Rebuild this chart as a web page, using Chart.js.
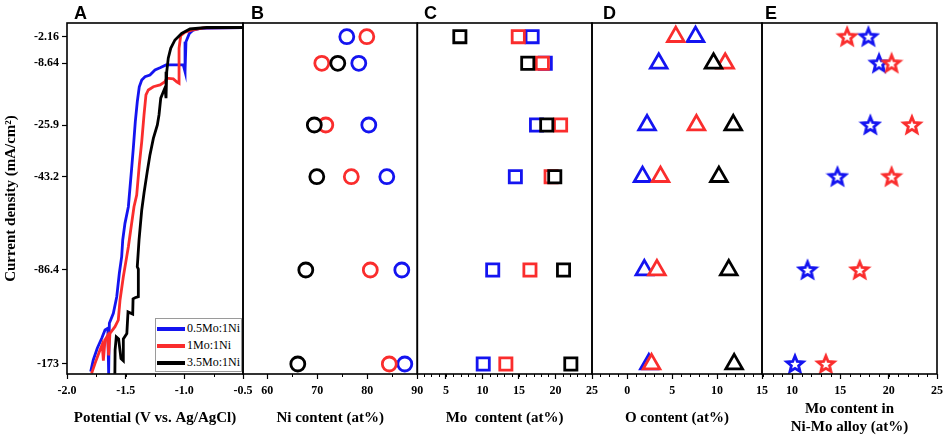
<!DOCTYPE html>
<html>
<head>
<meta charset="utf-8">
<script src="https://cdn.jsdelivr.net/npm/chart.js@4.4.1/dist/chart.umd.min.js"></script>
<style>
body { margin: 0; background: #fff; }
#wrap { position: relative; width: 948px; height: 440px; overflow: hidden; }
#wrap canvas { position: absolute; left: 0; top: 0; }
.tag { position: absolute; top: 4px; font: bold 18px/1 "Liberation Sans", Arial, sans-serif; color: #000; }
#legend { position: absolute; left: 155px; top: 318px; width: 87px; height: 54px; box-sizing: border-box;
  border: 1px solid #9a9a9a; background: #fff; font: 12px "Liberation Serif", "Times New Roman", serif; }
#legend .row { position: absolute; left: 1px; height: 17px; display: flex; align-items: center; white-space: nowrap; }
#legend .row i { display: inline-block; width: 28px; height: 4px; margin-right: 2px; }
</style>
</head>
<body>
<div id="wrap">
  <canvas id="panelA" width="948" height="440"></canvas>
  <canvas id="panelB" width="948" height="440"></canvas>
  <canvas id="panelC" width="948" height="440"></canvas>
  <canvas id="panelD" width="948" height="440"></canvas>
  <canvas id="panelE" width="948" height="440"></canvas>
  <div class="tag" style="left:74px">A</div>
  <div class="tag" style="left:251px">B</div>
  <div class="tag" style="left:424px">C</div>
  <div class="tag" style="left:603px">D</div>
  <div class="tag" style="left:765px">E</div>
  <div id="legend"></div>
</div>
<script>
// series: 0.5Mo:1Ni (blue), 1Mo:1Ni (red), 3.5Mo:1Ni (black)
const seriesNames = ['0.5Mo:1Ni', '1Mo:1Ni', '3.5Mo:1Ni'];
const seriesColors = ['#1414f0', '#fa2d2d', '#000000'];

// current density levels (mA/cm2) = y tick labels
const levels = [-2.16, -8.64, -25.9, -43.2, -86.4, -173];
const levelLabels = ['-2.16', '-8.64', '-25.9', '-43.2', '-86.4', '-173'];

// panel A: polarization curves (potential V, current density mA/cm2)
const blueV = [-0.5, -0.866, -0.923, -0.957, -0.986, -0.994, -1.009, -1.156, -1.207, -1.25, -1.293, -1.335, -1.363, -1.384, -1.401, -1.418, -1.435, -1.449, -1.477, -1.506, -1.525, -1.534, -1.554, -1.576, -1.605, -1.639, -1.645, -1.652, -1.676, -1.704, -1.742, -1.776, -1.798];
const blueI = [0, -0.2, -0.6, -1.4, -3.4, -11.0, -9.1, -9.1, -9.9, -10.5, -11.9, -12.4, -13.3, -15.2, -19.4, -25.0, -33.7, -40.4, -57.1, -64.8, -72.5, -80.2, -89.4, -111, -126.3, -135.5, -182, -140, -141.6, -149.3, -158.5, -169.3, -180];
const redV = [-0.5, -0.838, -0.937, -0.994, -1.031, -1.045, -1.045, -1.065, -1.094, -1.15, -1.165, -1.207, -1.264, -1.307, -1.327, -1.344, -1.363, -1.384, -1.406, -1.429, -1.457, -1.477, -1.491, -1.52, -1.548, -1.563, -1.591, -1.634, -1.645, -1.655, -1.676, -1.69, -1.70, -1.719, -1.761, -1.79];
const redI = [0, -0.1, -0.6, -1.1, -1.9, -5.0, -14.2, -13.8, -13.0, -12.8, -13.8, -14.7, -15.2, -16.1, -17.5, -23.2, -31.5, -39.3, -51.7, -57.1, -67.9, -75.6, -80.2, -92.6, -114, -132.5, -138.6, -144.8, -165, -147, -150.9, -170, -155, -160.1, -172.4, -181.6];
const blackV = [-0.5, -0.809, -0.952, -1.023, -1.08, -1.116, -1.137, -1.15, -1.156, -1.165, -1.179, -1.201, -1.216, -1.23, -1.264, -1.293, -1.316, -1.343, -1.363, -1.386, -1.401, -1.392, -1.392, -1.42, -1.437, -1.44, -1.48, -1.49, -1.52, -1.52, -1.54, -1.56, -1.58, -1.59, -1.592];
const blackI = [0, 0, -0.35, -1.4, -2.96, -5.0, -7.4, -11.0, -18.4, -15.5, -16.6, -18.4, -23.1, -25.9, -30.4, -35.9, -41.5, -50.5, -58.6, -72.5, -84.9, -86, -111, -112, -113, -127, -125, -145, -150, -170, -168, -150, -148, -160, -182];

// panel B: Ni content (at%)
const niBlue = [75.9, 78.3, 80.3, 83.9, 86.9, 87.5];
const niRed = [79.9, 70.9, 71.7, 76.8, 80.6, 84.4];
const niBlack = [null, 74.1, 69.4, 69.9, 67.7, 66.1];
// panel C: Mo content (at%)
const moBlue = [16.8, 18.6, 17.4, 14.5, 11.4, 10.1];
const moRed = [14.9, 18.2, 20.7, 19.4, 16.5, 13.2];
const moBlack = [6.9, 16.2, 18.8, 19.9, 21.1, 22.1];
// panel D: O content (at%)
const oBlue = [7.6, 3.5, 2.2, 1.7, 1.9, 2.4];
const oRed = [5.4, 10.9, 7.7, 3.7, 3.3, 2.7];
const oBlack = [null, 9.6, 11.8, 10.2, 11.3, 11.9];
// panel E: Mo content in Ni-Mo alloy (at%)
const alloyBlue = [17.9, 19.0, 18.1, 14.7, 11.6, 10.3];
const alloyRed = [15.7, 20.3, 22.4, 20.3, 17.0, 13.5];

// y axis geometry: value -> fraction of plot height from top
const yMax = 1.06, yMin = -182.2;
const yKnots = [[1.06, 0], [0, 0.0128], [-2.16, 0.039], [-8.64, 0.1148], [-25.9, 0.2906],
  [-43.2, 0.4379], [-86.4, 0.7037], [-173, 0.9715], [-182.2, 1]];

class KnotScale extends Chart.LinearScale {
  getPixelForValue(value) {
    const k = yKnots;
    let i = 0;
    while (i < k.length - 2 && value < k[i + 1][0]) i++;
    const [v0, f0] = k[i], [v1, f1] = k[i + 1];
    const f = f0 + (value - v0) / (v1 - v0) * (f1 - f0);
    return this.top + f * (this.bottom - this.top);
  }
  getValueForPixel(pixel) {
    const k = yKnots;
    const f = (pixel - this.top) / (this.bottom - this.top);
    let i = 0;
    while (i < k.length - 2 && f > k[i + 1][1]) i++;
    const [v0, f0] = k[i], [v1, f1] = k[i + 1];
    return v0 + (f - f0) / (f1 - f0) * (v1 - v0);
  }
}
KnotScale.id = 'knot';
KnotScale.defaults = {};
Chart.register(KnotScale);

// box around each plot
const framePlugin = {
  id: 'frame',
  afterDraw(chart) {
    const { ctx, chartArea: a } = chart;
    ctx.save();
    ctx.strokeStyle = '#000';
    ctx.lineWidth = 1.6;
    ctx.strokeRect(a.left, a.top, a.right - a.left, a.bottom - a.top);
    ctx.restore();
  }
};
// small ticks between the labelled ones
const minorPlugin = {
  id: 'minor',
  afterDraw(chart, args, opts) {
    const s = chart.scales.x;
    if (!opts.step) return;
    const ctx = chart.ctx;
    ctx.save();
    ctx.strokeStyle = '#000';
    ctx.lineWidth = 1;
    for (let v = Math.ceil(s.min / opts.step) * opts.step; v <= s.max + 1e-9; v += opts.step) {
      const p = Math.round(s.getPixelForValue(v)) + 0.5;
      ctx.beginPath();
      ctx.moveTo(p, s.top);
      ctx.lineTo(p, s.top + 3);
      ctx.stroke();
    }
    ctx.restore();
  }
};

const tickFont = { family: 'Liberation Serif', weight: 'bold', size: 12 };
const titleFont = { family: 'Liberation Serif', weight: 'bold', size: 15 };
const drawOrder = [2, 1, 0];

function xAxis(min, max, majors, fmt, title, pad) {
  return {
    type: 'linear', min: min, max: max,
    afterBuildTicks: s => { s.ticks = majors.map(v => ({ value: v })); },
    afterFit: s => { s.height = 66; },
    grid: { drawOnChartArea: false, drawTicks: true, tickLength: 5, tickColor: '#000', tickWidth: 1.2 },
    border: { display: false },
    ticks: { autoSkip: false, maxRotation: 0, padding: 5, color: '#000', font: tickFont, callback: fmt },
    title: { display: true, text: title, color: '#000', font: titleFont, padding: { top: 0, bottom: pad } }
  };
}

function makePanel(id, left, right, x, datasets, yAxis, minorStep) {
  return new Chart(document.getElementById(id), {
    type: 'scatter',
    data: { datasets: datasets },
    options: {
      responsive: false, animation: false, events: [],
      layout: { padding: { left: left, right: 948 - right, top: 23, bottom: 0 } },
      scales: { x: x, y: yAxis || { type: 'knot', min: yMin, max: yMax, display: false } },
      plugins: { legend: { display: false }, tooltip: { enabled: false }, minor: { step: minorStep } }
    },
    plugins: [framePlugin, minorPlugin]
  });
}

function pts(xs, ys) {
  return xs.map((v, i) => ({ x: v, y: ys[i] })).filter(p => p.x !== null);
}

function markerSets(values, style, radius, width) {
  return values.map((vals, s) => ({
    label: seriesNames[s],
    data: pts(vals, levels),
    pointStyle: style,
    pointRadius: radius,
    pointBorderWidth: width,
    pointBorderColor: seriesColors[s],
    pointBackgroundColor: '#fff',
    order: drawOrder[s]
  }));
}

function makeStar(color) {
  const c = document.createElement('canvas');
  c.width = 24; c.height = 24;
  const g = c.getContext('2d');
  g.beginPath();
  for (let i = 0; i < 10; i++) {
    const r = i % 2 === 0 ? 8.6 : 3.8;
    const a = -Math.PI / 2 + i * Math.PI / 5;
    g.lineTo(12 + r * Math.cos(a), 12.5 + r * Math.sin(a));
  }
  g.closePath();
  g.fillStyle = '#fff';
  g.fill();
  g.lineJoin = 'miter';
  g.lineWidth = 2.8;
  g.strokeStyle = color;
  g.stroke();
  return c;
}

// A: polarization curves
const curves = [[blueV, blueI], [redV, redI], [blackV, blackI]];
makePanel('panelA', 0, 243,
  xAxis(-2, -0.5, [-2, -1.5, -1, -0.5], v => v.toFixed(1), 'Potential (V vs. Ag/AgCl)', 13),
  curves.map((c, s) => ({
    label: seriesNames[s], data: pts(c[0], c[1]), showLine: true, pointRadius: 0,
    borderColor: seriesColors[s], borderWidth: 2.8, order: drawOrder[s]
  })),
  {
    type: 'knot', min: yMin, max: yMax,
    afterBuildTicks: s => { s.ticks = levels.map(v => ({ value: v })); },
    afterFit: s => { s.width = 67; },
    grid: { drawOnChartArea: false, drawTicks: true, tickLength: 5, tickColor: '#000', tickWidth: 1.2 },
    border: { display: false },
    ticks: { padding: 3, color: '#000', font: tickFont, callback: (v, i) => levelLabels[i] },
    title: { display: true, text: 'Current density (mA/cm²)', color: '#000', font: titleFont, padding: { top: 2 } }
  }, 0.25);

// B: Ni content
makePanel('panelB', 243, 417.3,
  xAxis(55.14, 90, [60, 70, 80, 90], v => String(v), 'Ni content (at%)', 13),
  markerSets([niBlue, niRed, niBlack], 'circle', 7, 2.8), null, 5);

// C: Mo content
makePanel('panelC', 417.3, 592,
  xAxis(1.07, 25, [5, 10, 15, 20, 25], v => String(v), 'Mo  content (at%)', 13),
  markerSets([moBlue, moRed, moBlack], 'rect', 8.6, 2.8), null, 1);

// D: O content
makePanel('panelD', 592, 762,
  xAxis(-3.93, 15, [0, 5, 10, 15], v => String(v), 'O content (at%)', 13),
  markerSets([oBlue, oRed, oBlack], 'triangle', 9.6, 2.8), null, 1);

// E: Mo content in the alloy (no 3.5Mo:1Ni values)
const starSets = markerSets([alloyBlue, alloyRed], 'circle', 8, 2.8);
starSets.forEach((d, s) => { d.pointStyle = makeStar(seriesColors[s]); });
makePanel('panelE', 762, 939.5,
  xAxis(6.89, 25, [10, 15, 20, 25], v => String(v), ['Mo content in', 'Ni-Mo alloy (at%)'], 4),
  starSets, null, 1);

// legend for panel A
const legend = document.getElementById('legend');
seriesNames.forEach((n, s) => {
  legend.innerHTML += `<div class="row" style="top:${1 + s * 17}px"><i style="background:${seriesColors[s]}"></i>${n}</div>`;
});
</script>
</body>
</html>
